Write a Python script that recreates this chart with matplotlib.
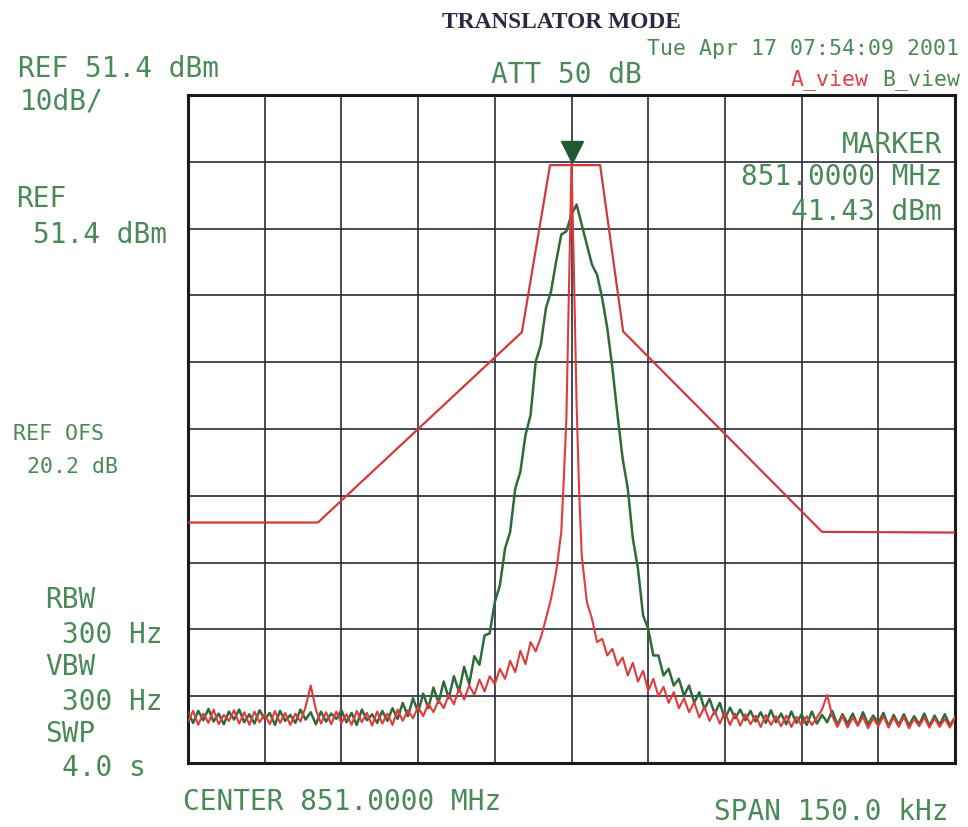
import numpy as np
import matplotlib
matplotlib.use("Agg")
import matplotlib.pyplot as plt

# ---------------- data ----------------
# frequency offset from center 851.0000 MHz, kHz
green_khz = list(range(-75, 76))
green_dbm = [
    -41.0, -42.6, -40.8, -42.2, -40.5, -42.4, -41.2, -42.8, -40.9, -42.1,   # -75..-66
    -40.6, -42.5, -41.3, -42.7, -40.7, -42.0, -41.1, -42.9, -40.8, -42.3,   # -65..-56
    -41.4, -42.6, -40.6, -42.1, -41.0, -42.8, -40.9, -42.4, -41.2, -42.0,   # -55..-46
    -40.7, -42.5, -41.1, -42.9, -40.6, -42.2, -41.3, -42.6, -40.8, -42.3,   # -45..-36
    -40.4, -42.0, -39.6, -41.6, -38.9, -41.0, -38.2, -40.4, -37.3, -39.6,   # -35..-26
    -36.4, -38.9, -35.6, -37.9, -34.2, -36.8, -32.6, -33.9, -29.5, -29.2,   # -25..-16
    -24.5, -22.0, -16.5, -14.0, -7.5, -5.0, 0.5, 3.5, 11.5, 14.0,           # -15..-6
    19.5, 22.0, 26.5, 30.5, 31.0, 33.5, 35.0, 32.0, 29.0, 26.0,             # -5..4
    24.5, 21.0, 16.5, 10.5, 3.5, -3.0, -7.5, -15.0, -19.5, -26.5,           # 5..14
    -28.5, -32.5, -32.5, -35.5, -34.5, -37.0, -36.0, -38.5, -37.0, -39.6,   # 15..24
    -38.0, -40.5, -39.0, -41.2, -39.6, -42.0, -40.3, -41.9, -40.6, -42.2,   # 25..34
    -40.8, -42.4, -41.0, -42.6, -40.7, -42.5, -41.2, -42.8, -40.9, -42.6,   # 35..44
    -41.3, -42.9, -40.9, -42.7, -41.4, -42.5, -40.8, -42.9, -41.3, -42.7,   # 45..54
    -41.2, -43.0, -41.0, -42.8, -41.5, -42.6, -41.1, -43.1, -41.4, -42.9,   # 55..64
    -41.3, -43.0, -41.6, -42.8, -41.2, -43.1, -41.5, -42.9, -41.3, -43.0,   # 65..74
    -41.8,                                                                   # 75
]

red_khz = sorted(list(range(-75, 76)) + [-1.5, -0.5, 0.5, 1.5])
red_dbm = [
    -42.4, -40.8, -42.9, -41.2, -42.6, -40.6, -42.8, -41.4, -42.3, -40.7,   # -75..-66
    -42.7, -41.0, -42.9, -40.9, -42.5, -41.3, -42.8, -40.8, -42.6, -41.1,   # -65..-56
    -42.9, -41.2, -42.4, -40.2, -37.0, -40.6, -42.7, -41.0, -42.8, -40.9,   # -55..-46
    -42.6, -41.3, -42.9, -40.8, -42.5, -41.1, -43.0, -40.9, -42.7, -41.2,   # -45..-36
    -42.9, -40.6, -42.3, -40.7, -41.9, -40.2, -41.6, -39.7, -41.0, -39.2,   # -35..-26
    -40.4, -38.4, -39.8, -37.5, -39.1, -37.0, -38.4, -36.1, -37.9, -35.6,   # -25..-16
    -36.8, -34.5, -36.0, -33.3, -35.0, -31.8, -33.8, -30.5, -31.9, -29.8,   # -15..-6
    -27.0, -24.0, -20.0, -14.0,                                              # -5..-2
    -6.0, 3.0, 22.0, 41.4, 24.0, 5.0, -8.0,                                  # -1.5..1.5
    -17.5,                                                                   # 2
    -24.5, -27.0, -30.5, -30.0, -32.5, -31.5, -34.0, -32.8, -35.5, -33.6,   # 3..12
    -36.4, -34.8, -37.8, -36.0, -38.6, -37.2, -39.6, -38.0, -40.4, -38.9,   # 13..22
    -41.0, -39.5, -41.8, -40.2, -42.3, -40.8, -42.7, -41.0, -42.9, -41.2,   # 23..32
    -43.0, -41.3, -42.8, -41.5, -43.2, -41.4, -42.9, -41.6, -43.1, -41.5,   # 33..42
    -43.2, -41.7, -43.0, -41.6, -42.9, -41.8, -40.6, -38.4, -41.6, -43.2,   # 43..52
    -41.6, -43.3, -41.8, -43.0, -41.7, -43.4, -41.9, -43.1, -41.6, -43.3,   # 53..62
    -41.8, -43.2, -41.7, -43.4, -42.0, -43.1, -41.8, -43.3, -41.9, -43.2,   # 63..72
    -42.0, -43.3, -41.8,                                                     # 73..75
]

mask_khz = [-75, -49.6, -9.7, -4.2, 5.6, 10.1, 49.0, 75]
mask_dbm = [-12.6, -12.6, 15.9, 40.9, 40.9, 16.0, -14.0, -14.1]

marker_khz = [0.0]
marker_dbm = [42.9]

ref_level = 51.4
db_per_div = 10
span_khz = 150.0

# ---------------- figure ----------------
W, H = 968, 827
fig = plt.figure(figsize=(W / 100, H / 100), dpi=100)
fig.patch.set_facecolor("white")

ax = fig.add_axes([188 / W, 1 - 763 / H, 767 / W, 668 / H])
ax.set_xlim(-span_khz / 2, span_khz / 2)
ax.set_ylim(ref_level - 10 * db_per_div, ref_level)
ax.set_xticks(np.linspace(-span_khz / 2, span_khz / 2, 11))
ax.set_yticks(np.linspace(ref_level - 10 * db_per_div, ref_level, 11))
ax.tick_params(length=0, labelbottom=False, labelleft=False)
ax.grid(True, color="#2a2a3a", linewidth=1.2)
ax.set_axisbelow(True)
for s in ax.spines.values():
    s.set_color("#1a1a1a")
    s.set_linewidth(2.2)

GREEN_TR = "#2f6a3a"
RED_TR = "#e23a3a"
MASK = "#cf3a3a"

ax.plot(green_khz, green_dbm, color=GREEN_TR, lw=1.8, zorder=3)
ax.plot(red_khz, red_dbm, color=RED_TR, lw=1.5, zorder=4)
ax.plot(mask_khz, mask_dbm, color=MASK, lw=1.6, zorder=4)
ax.plot(marker_khz, marker_dbm, marker="v", markersize=16, color="#1f5a30",
        linestyle="none", clip_on=False, zorder=6)

# ---------------- text ----------------
TXT = "#4a8a58"
MONO = "DejaVu Sans Mono"


def t(x, y, s, size=20, color=TXT, ha="left", **kw):
    fig.text(x / W, 1 - y / H, s, fontsize=size, color=color, ha=ha,
             va="baseline", family=kw.pop("family", MONO), **kw)


t(442, 28, "TRANSLATOR MODE", size=16.8, color="#2a2a44",
  family="Liberation Serif", fontweight="bold")
t(18, 77, "REF 51.4 dBm")
t(20, 110, "10dB/")
t(16, 207, "REF")
t(33, 243, "51.4 dBm")
t(13, 440, "REF OFS", size=15.5)
t(27, 473, "20.2 dB", size=15.5)
t(45, 608, "RBW")
t(62, 643, "300 Hz")
t(45, 675, "VBW")
t(62, 710, "300 Hz")
t(45, 742, "SWP")
t(62, 776, "4.0 s")
t(183, 810, "CENTER 851.0000 MHz")
t(949, 820, "SPAN 150.0 kHz", ha="right")
t(959, 55, "Tue Apr 17 07:54:09 2001", size=15.5, ha="right")
t(491, 83, "ATT 50 dB")
t(791, 85, "A_view", size=15.5, color="#e0404a")
t(882, 85, "B_view", size=15.5)
t(942, 153, "MARKER", ha="right")
t(942, 185, "851.0000 MHz", ha="right")
t(942, 220, "41.43 dBm", ha="right")

fig.savefig("out.png", dpi=100, facecolor="white")
